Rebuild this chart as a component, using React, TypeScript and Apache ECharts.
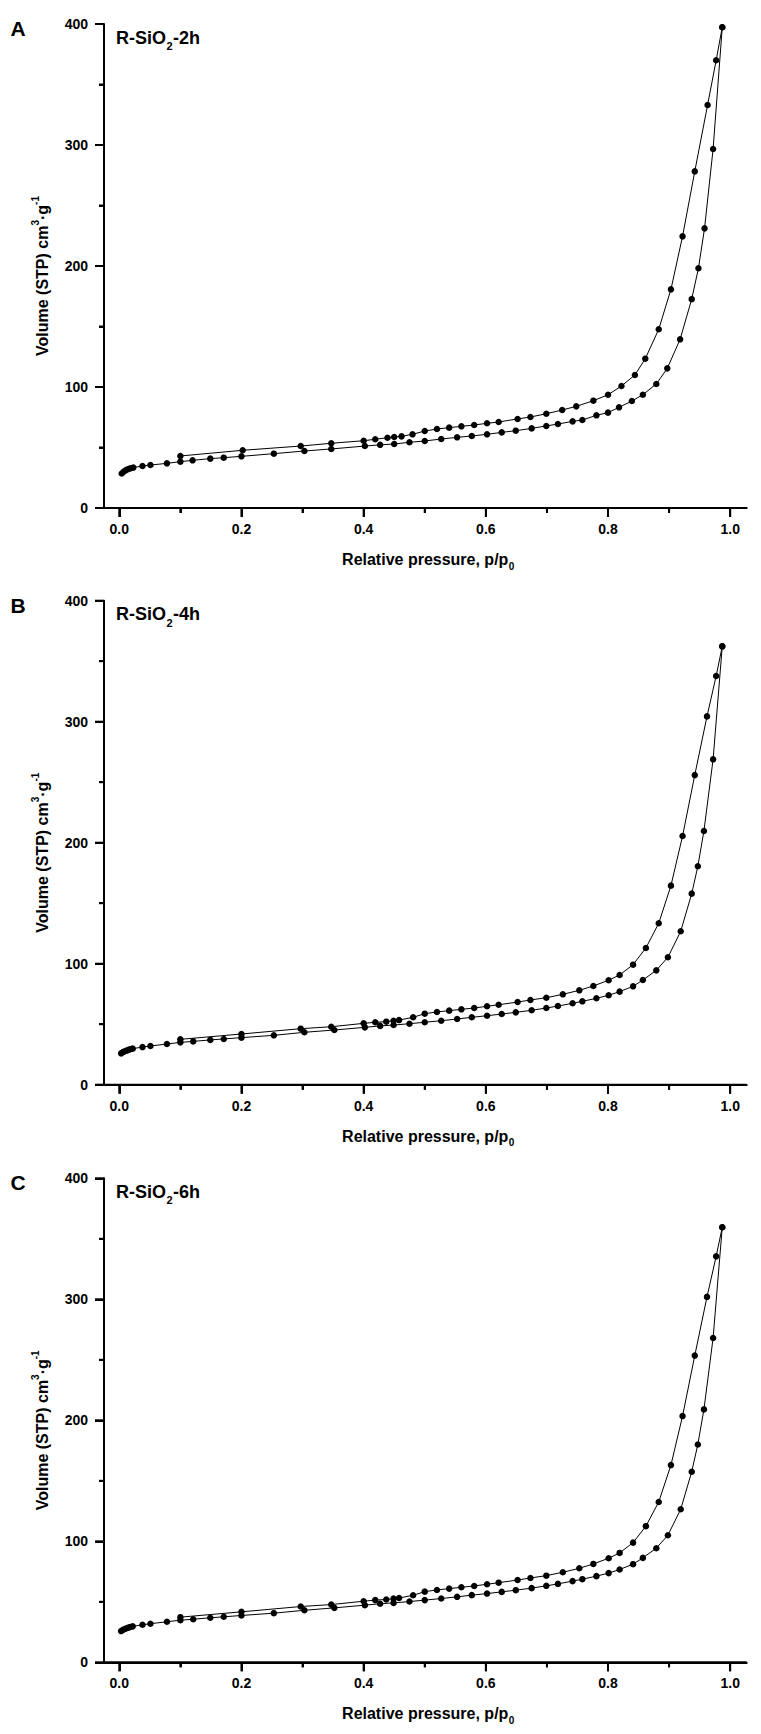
import React, { useEffect, useRef } from 'react';
import * as echarts from 'echarts';

// ---------- data ----------
const xMajorTicks = [0, 0.2, 0.4, 0.6, 0.8, 1.0];
const xMinorTicks = [0.1, 0.3, 0.5, 0.7, 0.9];
const yMajorTicks = [0, 100, 200, 300, 400];
const yMinorTicks = [50, 150, 250, 350];
const panelLetters = ['A', 'B', 'C'];
const sampleSuffix = ['2h', '4h', '6h'];

// Panel A (R-SiO2-2h)
const adsorptionA = [
  [0.004, 28.5], [0.007, 30.0], [0.010, 31.0], [0.013, 31.8], [0.016, 32.4], [0.019, 32.9], [0.023, 33.4],
  [0.038, 34.7], [0.051, 35.5], [0.078, 36.9], [0.100, 38.3], [0.120, 39.4], [0.149, 40.8], [0.171, 41.6],
  [0.200, 42.7], [0.253, 44.9], [0.303, 47.1], [0.347, 48.8], [0.402, 51.2], [0.427, 52.2], [0.450, 52.9],
  [0.475, 54.3], [0.500, 55.4], [0.527, 57.0], [0.553, 58.4], [0.577, 59.5], [0.602, 60.9], [0.626, 62.5],
  [0.649, 63.9], [0.675, 65.8], [0.699, 67.8], [0.718, 69.4], [0.742, 71.6], [0.758, 72.7], [0.781, 76.6],
  [0.800, 78.8], [0.818, 83.2], [0.839, 88.4], [0.857, 93.6], [0.879, 102.5], [0.897, 115.4], [0.918, 139.4],
  [0.937, 172.6], [0.948, 198.1], [0.958, 231.1], [0.972, 296.7], [0.987, 397.3],
];
const desorptionA = [
  [0.987, 397.3], [0.977, 370.0], [0.963, 333.1], [0.942, 278.2], [0.922, 224.5], [0.903, 180.7], [0.883, 147.7],
  [0.861, 123.4], [0.844, 109.9], [0.822, 100.8], [0.800, 93.6], [0.776, 88.7], [0.748, 84.0], [0.725, 81.0],
  [0.699, 77.9], [0.673, 75.2], [0.652, 73.6], [0.621, 71.1], [0.602, 70.0], [0.581, 68.6], [0.560, 67.5],
  [0.540, 66.4], [0.520, 65.3], [0.500, 63.6], [0.480, 60.9], [0.462, 59.2], [0.450, 58.7], [0.439, 58.1],
  [0.419, 56.8], [0.400, 55.6], [0.347, 53.5], [0.297, 51.2], [0.202, 47.7], [0.100, 43.0],
];

// Panel B (R-SiO2-4h)
const adsorptionB = [
  [0.003, 25.9], [0.006, 26.9], [0.009, 27.6], [0.012, 28.2], [0.015, 28.8], [0.018, 29.3], [0.022, 29.8],
  [0.038, 31.1], [0.051, 32.0], [0.078, 33.6], [0.100, 35.0], [0.121, 35.8], [0.149, 37.0], [0.171, 37.8],
  [0.200, 38.9], [0.253, 40.8], [0.303, 43.3], [0.352, 45.2], [0.402, 47.4], [0.427, 48.6], [0.449, 49.3],
  [0.475, 50.4], [0.500, 51.6], [0.527, 52.9], [0.553, 54.3], [0.577, 55.7], [0.602, 57.0], [0.626, 58.4],
  [0.649, 59.8], [0.675, 61.5], [0.699, 63.4], [0.718, 65.0], [0.742, 67.3], [0.758, 68.9], [0.781, 71.4],
  [0.801, 73.9], [0.819, 76.9], [0.841, 81.3], [0.857, 86.5], [0.879, 94.5], [0.898, 105.3], [0.919, 126.8],
  [0.937, 157.9], [0.947, 180.5], [0.957, 209.7], [0.972, 268.9], [0.987, 362.3],
];
const desorptionB = [
  [0.987, 362.3], [0.977, 337.8], [0.962, 304.4], [0.942, 255.9], [0.922, 205.5], [0.903, 164.5], [0.883, 133.4],
  [0.862, 113.0], [0.841, 99.2], [0.819, 90.7], [0.801, 86.3], [0.776, 81.6], [0.753, 78.0], [0.726, 74.7],
  [0.699, 71.9], [0.673, 70.0], [0.652, 68.3], [0.621, 66.1], [0.602, 64.8], [0.581, 63.4], [0.560, 62.3],
  [0.540, 61.2], [0.520, 60.1], [0.500, 58.7], [0.481, 55.7], [0.458, 53.4], [0.449, 52.9], [0.437, 52.1],
  [0.419, 51.6], [0.400, 50.7], [0.347, 47.9], [0.297, 46.3], [0.200, 41.9], [0.100, 37.5],
];

// Panel C (R-SiO2-6h)
const adsorptionC = [
  [0.003, 25.8], [0.006, 26.8], [0.009, 27.5], [0.012, 28.1], [0.015, 28.7], [0.018, 29.2], [0.022, 29.7],
  [0.038, 31.0], [0.051, 31.9], [0.078, 33.5], [0.100, 34.8], [0.121, 35.6], [0.149, 36.8], [0.171, 37.6],
  [0.200, 38.7], [0.253, 40.6], [0.303, 43.0], [0.352, 45.0], [0.402, 47.2], [0.427, 48.4], [0.449, 49.1],
  [0.475, 50.2], [0.500, 51.4], [0.527, 52.7], [0.553, 54.1], [0.577, 55.5], [0.602, 56.8], [0.626, 58.2],
  [0.649, 59.6], [0.675, 61.3], [0.699, 63.2], [0.718, 64.8], [0.742, 67.1], [0.758, 68.7], [0.781, 71.2],
  [0.801, 73.7], [0.819, 76.7], [0.841, 81.1], [0.857, 86.3], [0.879, 94.3], [0.898, 105.0], [0.919, 126.5],
  [0.937, 157.5], [0.947, 180.0], [0.957, 209.0], [0.972, 268.0], [0.987, 359.5],
];
const desorptionC = [
  [0.987, 359.5], [0.977, 335.5], [0.962, 302.0], [0.942, 253.5], [0.922, 203.5], [0.903, 163.0], [0.883, 132.5],
  [0.862, 112.5], [0.841, 98.9], [0.819, 90.4], [0.801, 86.0], [0.776, 81.3], [0.753, 77.7], [0.726, 74.4],
  [0.699, 71.6], [0.673, 69.7], [0.652, 68.0], [0.621, 65.8], [0.602, 64.5], [0.581, 63.1], [0.560, 62.0],
  [0.540, 60.9], [0.520, 59.8], [0.500, 58.4], [0.481, 55.4], [0.458, 53.1], [0.449, 52.6], [0.437, 51.9],
  [0.419, 51.4], [0.400, 50.5], [0.347, 47.7], [0.297, 46.1], [0.200, 41.7], [0.100, 37.3],
];

const adsorption = [adsorptionA, adsorptionB, adsorptionC];
const desorption = [desorptionA, desorptionB, desorptionC];

// ---------- layout ----------
const FONT = "'Liberation Sans', Arial, sans-serif";
const PANEL_HEIGHT = 578;
const GRID_LEFT = 104;
const GRID_WIDTH = 642.7;
const GRID_HEIGHT = 484;
const GRID_TOPS = [24, 22.7, 22.3];
const X_MIN = -0.025;
const X_MAX = 1.027;

let measureCtx: CanvasRenderingContext2D | null = null;
function textWidth(text: string, size: number): number {
  if (!measureCtx) measureCtx = document.createElement('canvas').getContext('2d');
  if (!measureCtx) return text.length * size * 0.6;
  measureCtx.font = `bold ${size}px ${FONT}`;
  return measureCtx.measureText(text).width;
}

function txt(x: number, y: number, text: string, size: number, align: string, rotation = 0) {
  return {
    type: 'text', x, y, rotation,
    style: { text, font: `bold ${size}px ${FONT}`, fill: '#000', align, verticalAlign: 'middle' },
  };
}

function buildTexts(i: number) {
  const top = GRID_TOPS[i];
  const graphic: any[] = [];
  graphic.push(txt(18, top + 4.5, panelLetters[i], 21, 'center'));

  const tY = top + 13.5;
  const w1 = textWidth('R-SiO', 18);
  const w2 = textWidth('2', 11);
  graphic.push(txt(116, tY, 'R-SiO', 18, 'left'));
  graphic.push(txt(116 + w1 + 0.5, tY + 8.5, '2', 11, 'left'));
  graphic.push(txt(116 + w1 + w2 + 1, tY, '-' + sampleSuffix[i], 18, 'left'));

  const xt = 'Relative pressure, p/p';
  const xw1 = textWidth(xt, 16);
  const xw2 = textWidth('0', 10);
  const xStart = 428 - (xw1 + xw2) / 2;
  const xY = top + 535.6;
  graphic.push(txt(xStart, xY, xt, 16, 'left'));
  graphic.push(txt(xStart + xw1 + 0.5, xY + 6.5, '0', 10, 'left'));

  const parts: [string, number, number][] = [
    ['Volume (STP) cm', 16, 0],
    ['3', 10, -6.5],
    ['·g', 16, 0],
    ['-1', 10, -6.5],
  ];
  const widths = parts.map(([t, s]) => textWidth(t, s));
  const total = widths.reduce((a, b) => a + b, 0);
  let yPos = top + 252 + total / 2;
  parts.forEach(([t, s, dx], k) => {
    graphic.push(txt(42 + dx, yPos, t, s, 'left', Math.PI / 2));
    yPos -= widths[k];
  });
  return graphic;
}

function buildOption(i: number) {
  const top = GRID_TOPS[i];
  const labelStyle = { fontSize: 14, fontWeight: 'bold', fontFamily: FONT, color: '#000' };
  const common = {
    type: 'line', xAxisIndex: 0, yAxisIndex: 0,
    symbol: 'circle', symbolSize: 6.5, showAllSymbol: true,
    itemStyle: { color: '#000' }, lineStyle: { color: '#000', width: 1 },
    clip: false, z: 5,
  };
  return {
    animation: false,
    backgroundColor: '#fff',
    grid: [{ left: GRID_LEFT, top, width: GRID_WIDTH, height: GRID_HEIGHT }],
    xAxis: [
      {
        gridIndex: 0, type: 'value', min: X_MIN, max: X_MAX, position: 'bottom',
        axisLine: { show: true, onZero: false, lineStyle: { color: '#000', width: 2 } },
        axisTick: { show: true, inside: false, length: 9, customValues: xMajorTicks, lineStyle: { color: '#000', width: 2 } },
        axisLabel: { ...labelStyle, customValues: xMajorTicks, formatter: (v: number) => v.toFixed(1), margin: 14 },
        splitLine: { show: false },
      },
      {
        gridIndex: 0, type: 'value', min: X_MIN, max: X_MAX, position: 'bottom',
        axisLine: { show: false, onZero: false },
        axisTick: { show: true, inside: false, length: 5, customValues: xMinorTicks, lineStyle: { color: '#000', width: 2 } },
        axisLabel: { show: false },
        splitLine: { show: false },
      },
    ],
    yAxis: [
      {
        gridIndex: 0, type: 'value', min: 0, max: 400, interval: 100,
        axisLine: { show: true, onZero: false, lineStyle: { color: '#000', width: 2 } },
        axisTick: { show: true, inside: false, length: 9, lineStyle: { color: '#000', width: 2 } },
        minorTick: { show: true, splitNumber: 2, length: 5, lineStyle: { color: '#000', width: 2 } },
        axisLabel: { ...labelStyle, margin: 16 },
        splitLine: { show: false },
        minorSplitLine: { show: false },
      },
    ],
    series: [
      { ...common, data: adsorption[i] },
      { ...common, data: desorption[i] },
    ],
    graphic: buildTexts(i),
  };
}

// axis frame drawn from the library's own coordinate conversion
function buildFrame(chart: any) {
  const px = (x: number, y: number) => chart.convertToPixel({ xAxisIndex: 0, yAxisIndex: 0 }, [x, y]);
  const seg = (a: number[], b: number[]) => ({
    type: 'polyline', z: 10,
    shape: { points: [a, b] },
    style: { stroke: '#000', lineWidth: 2, fill: null },
  });
  const out: any[] = [];
  const o = px(X_MIN, 0);
  const xr = px(X_MAX, 0);
  const yt = px(X_MIN, 400);
  out.push(seg([o[0] - 1, o[1]], [xr[0], xr[1]]));
  out.push(seg([o[0], o[1] + 1], [yt[0], yt[1]]));
  xMajorTicks.forEach((v) => { const p = px(v, 0); out.push(seg([p[0], p[1]], [p[0], p[1] + 9])); });
  xMinorTicks.forEach((v) => { const p = px(v, 0); out.push(seg([p[0], p[1]], [p[0], p[1] + 5])); });
  yMajorTicks.forEach((v) => { const p = px(X_MIN, v); out.push(seg([p[0], p[1]], [p[0] - 9, p[1]])); });
  yMinorTicks.forEach((v) => { const p = px(X_MIN, v); out.push(seg([p[0], p[1]], [p[0] - 5, p[1]])); });
  return out;
}

function Panel({ index }: { index: number }) {
  const ref = useRef<HTMLDivElement>(null);
  useEffect(() => {
    if (!ref.current) return;
    const chart = echarts.init(ref.current, undefined, { renderer: 'svg' });
    chart.setOption(buildOption(index) as any);
    try {
      const frame = buildFrame(chart);
      if (frame.every((f) => f.shape.points.every((p: number[]) => isFinite(p[0]) && isFinite(p[1])))) {
        chart.setOption({ graphic: [...buildTexts(index), ...frame] } as any);
      }
    } catch (e) {
      // keep the chart as it is
    }
    return () => chart.dispose();
  }, [index]);
  return <div ref={ref} style={{ width: 761, height: PANEL_HEIGHT }} />;
}

export default function App() {
  useEffect(() => {
    document.body.style.margin = '0';
  }, []);
  return (
    <div style={{ position: 'absolute', left: 0, top: 0, width: 761 }}>
      <Panel index={0} />
      <Panel index={1} />
      <Panel index={2} />
    </div>
  );
}
